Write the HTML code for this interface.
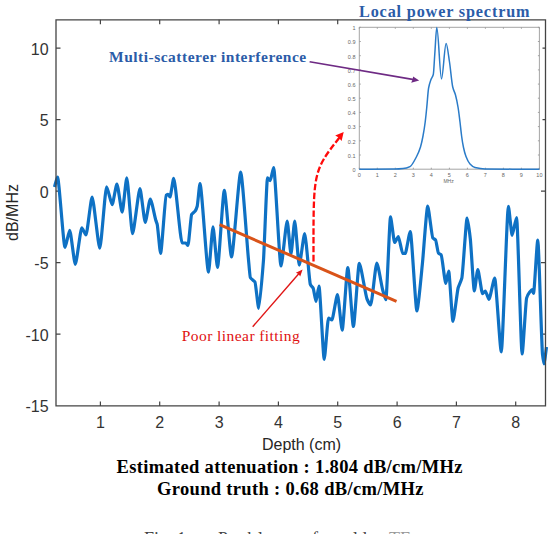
<!DOCTYPE html>
<html><head><meta charset="utf-8"><style>html,body{margin:0;padding:0;background:#fff;overflow:hidden}svg{display:block}</style></head>
<body><svg width="550" height="534" viewBox="0 0 550 534">
<rect x="0" y="0" width="550" height="534" fill="#fff"/>
<path d="M100.4,405.9 v-4.5 M100.4,19.8 v4.5 M159.7,405.9 v-4.5 M159.7,19.8 v4.5 M219.1,405.9 v-4.5 M219.1,19.8 v4.5 M278.4,405.9 v-4.5 M278.4,19.8 v4.5 M337.7,405.9 v-4.5 M337.7,19.8 v4.5 M397.1,405.9 v-4.5 M456.4,405.9 v-4.5 M515.7,405.9 v-4.5 M56.0,48.2 h4.5 M545.5,48.2 h-3 M56.0,119.7 h4.5 M545.5,119.7 h-3 M56.0,191.2 h4.5 M545.5,191.2 h-4.5 M56.0,262.7 h4.5 M545.5,262.7 h-4.5 M56.0,334.2 h4.5 M545.5,334.2 h-4.5 " stroke="#444" stroke-width="1.2" fill="none"/>
<g font-family="Liberation Sans" font-size="16" fill="#333"><text x="100.4" y="428.3" text-anchor="middle">1</text><text x="159.7" y="428.3" text-anchor="middle">2</text><text x="219.1" y="428.3" text-anchor="middle">3</text><text x="278.4" y="428.3" text-anchor="middle">4</text><text x="337.7" y="428.3" text-anchor="middle">5</text><text x="397.1" y="428.3" text-anchor="middle">6</text><text x="456.4" y="428.3" text-anchor="middle">7</text><text x="515.7" y="428.3" text-anchor="middle">8</text><text x="48.6" y="54.8" text-anchor="end">10</text><text x="48.6" y="126.3" text-anchor="end">5</text><text x="48.6" y="197.8" text-anchor="end">0</text><text x="48.6" y="269.3" text-anchor="end">-5</text><text x="48.6" y="340.8" text-anchor="end">-10</text><text x="48.6" y="412.3" text-anchor="end">-15</text></g>
<text x="301.5" y="450" text-anchor="middle" font-family="Liberation Sans" font-size="16" fill="#262626">Depth (cm)</text>
<text transform="translate(18,212.5) rotate(-90)" text-anchor="middle" font-family="Liberation Sans" font-size="16" fill="#262626">dB/MHz</text>
<defs><clipPath id="cp"><rect x="56.0" y="19.8" width="489.5" height="386.09999999999997"/></clipPath></defs>
<path d="M54.5,187.0 C55.1,185.0 56.9,177.0 57.5,177.0 C59.0,177.0 63.5,247.3 65.0,247.3 C65.9,247.3 68.8,230.3 69.7,230.3 C70.8,230.3 74.2,264.3 75.3,264.3 C76.6,264.3 80.5,227.8 81.8,227.8 C82.6,227.8 85.2,235.0 86.0,235.0 C87.2,235.0 90.9,197.0 92.1,197.0 C93.6,197.0 98.3,248.2 99.8,248.2 C101.2,248.2 105.2,186.9 106.6,186.9 C107.7,186.9 111.1,204.6 112.2,204.6 C113.1,204.6 116.0,184.0 116.9,184.0 C118.0,184.0 121.1,212.1 122.2,212.1 C123.1,212.1 125.9,177.9 126.8,177.9 C127.9,177.9 131.4,233.7 132.5,233.7 C134.0,233.7 138.5,188.7 140.0,188.7 C141.0,188.7 144.2,222.4 145.2,222.4 C146.2,222.4 149.3,199.0 150.3,199.0 C151.4,199.0 154.8,217.0 155.9,220.6 C156.2,221.4 156.9,223.3 157.2,224.3 C157.9,227.0 159.9,253.3 160.6,253.3 C161.7,253.3 165.1,196.3 166.2,195.3 C166.6,195.0 167.6,194.3 168.0,194.3 C168.4,194.3 169.6,197.0 170.0,197.0 C170.7,197.0 173.0,178.4 173.7,178.4 C175.4,178.4 180.4,243.0 182.1,243.0 C182.9,243.0 185.1,243.0 185.9,243.0 C186.3,243.0 187.6,245.5 188.0,245.5 C188.7,245.5 190.9,215.9 191.6,214.6 C192.3,213.3 194.6,212.0 195.3,210.9 C195.7,210.3 196.8,207.6 197.2,206.2 C197.8,204.2 199.4,183.7 200.0,183.7 C201.7,183.7 206.8,272.1 208.5,272.1 C209.4,272.1 212.1,226.8 213.0,226.8 C213.9,226.8 216.6,267.5 217.5,267.5 C218.9,267.5 222.9,190.3 224.3,190.3 C225.7,190.3 230.1,257.0 231.5,257.0 C233.3,257.0 238.9,172.2 240.7,172.2 C242.2,172.2 246.9,242.7 248.4,258.7 C248.8,262.6 249.9,276.8 250.3,277.5 C250.9,278.6 252.5,279.8 253.1,280.3 C253.5,280.7 254.6,281.5 255.0,282.1 C255.7,283.2 258.0,308.4 258.7,308.4 C259.7,308.4 262.5,273.1 263.5,260.0 C264.3,249.1 266.7,177.8 267.5,177.8 C268.1,177.8 269.7,180.6 270.3,180.6 C271.0,180.6 272.9,167.5 273.6,167.5 C275.1,167.5 279.5,266.0 281.0,266.0 C282.2,266.0 286.0,221.0 287.2,221.0 C288.0,221.0 290.2,254.0 291.0,254.0 C291.7,254.0 294.0,221.0 294.7,221.0 C295.6,221.0 298.3,265.1 299.2,265.1 C300.3,265.1 303.6,233.7 304.7,233.7 C305.7,233.7 308.7,272.1 309.7,280.0 C309.8,281.0 310.2,284.1 310.3,284.4 C310.9,285.9 312.6,287.0 313.2,288.2 C313.8,289.4 315.4,301.5 316.0,301.5 C316.6,301.5 318.4,286.2 319.0,286.2 C320.0,286.2 323.2,359.3 324.2,359.3 C325.1,359.3 327.6,318.0 328.5,318.0 C329.2,318.0 331.2,320.0 331.9,320.0 C333.0,320.0 336.4,294.6 337.5,294.6 C338.4,294.6 341.3,330.2 342.2,330.2 C343.3,330.2 346.7,267.5 347.8,267.5 C348.9,267.5 352.3,326.5 353.4,326.5 C354.6,326.5 358.1,263.3 359.3,263.3 C360.8,263.3 365.5,295.5 367.0,299.0 C367.7,300.7 370.0,304.9 370.7,304.9 C371.9,304.9 375.6,263.0 376.8,263.0 C378.0,263.0 381.5,285.8 382.7,290.0 C383.3,292.3 385.3,299.7 385.9,299.7 C386.8,299.7 389.6,216.9 390.5,216.9 C391.3,216.9 393.8,242.5 394.6,242.5 C395.4,242.5 397.6,236.5 398.4,236.5 C399.2,236.5 401.8,253.2 402.6,253.3 C403.1,253.4 404.7,253.5 405.2,253.5 C406.2,253.5 409.3,231.5 410.3,231.5 C411.6,231.5 415.6,310.9 416.9,310.9 C418.0,310.9 421.4,273.5 422.5,262.7 C423.5,252.7 426.7,206.2 427.7,206.2 C428.7,206.2 431.8,236.8 432.8,238.0 C433.4,238.7 435.0,239.3 435.6,240.0 C436.2,240.7 437.8,252.3 438.4,253.0 C439.0,253.7 440.6,254.3 441.2,254.9 C442.1,256.0 444.9,283.5 445.8,283.5 C446.4,283.5 448.1,271.0 448.7,271.0 C449.5,271.0 452.1,321.3 452.9,321.3 C453.9,321.3 457.1,291.9 458.1,288.0 C458.9,285.2 461.1,281.0 461.9,277.8 C462.9,273.4 466.1,218.1 467.1,218.1 C467.7,218.1 469.7,233.3 470.3,238.7 C471.1,245.5 473.5,290.9 474.3,290.9 C475.0,290.9 477.1,269.5 477.8,269.5 C478.7,269.5 481.6,293.7 482.5,293.7 C483.1,293.7 484.7,291.0 485.3,291.0 C486.0,291.0 488.3,299.3 489.0,299.3 C490.1,299.3 493.6,278.0 494.7,278.0 C496.0,278.0 500.0,351.8 501.3,351.8 C502.7,351.8 507.0,206.3 508.4,206.3 C509.1,206.3 511.4,235.3 512.1,235.3 C513.0,235.3 515.7,217.5 516.6,217.5 C517.7,217.5 521.0,354.0 522.1,354.0 C523.0,354.0 525.7,301.0 526.6,298.1 C527.2,296.3 528.8,293.2 529.4,292.5 C530.0,291.8 531.6,289.7 532.2,289.7 C532.5,289.7 533.2,293.5 533.5,293.5 C534.4,293.5 536.9,240.0 537.8,240.0 C538.7,240.0 541.6,345.9 542.5,354.4 C542.8,357.1 543.7,363.8 544.0,363.8 C544.5,363.8 546.0,350.4 546.5,347.0" stroke="#0e71c4" stroke-width="3.2" fill="none" stroke-linejoin="round" stroke-linecap="butt"/>
<path d="M219.6,224.6 L396.5,301.3" stroke="#d95319" stroke-width="3" fill="none"/>
<path d="M56.0,19.8 H545.5 V405.9 H56.0 Z" stroke="#444" stroke-width="1.3" fill="none"/>
<path d="M359.3,169.2 v-1.5 M359.3,27.3 v1.5 M377.3,169.2 v-1.5 M377.3,27.3 v1.5 M395.3,169.2 v-1.5 M395.3,27.3 v1.5 M413.3,169.2 v-1.5 M413.3,27.3 v1.5 M431.3,169.2 v-1.5 M431.3,27.3 v1.5 M449.4,169.2 v-1.5 M449.4,27.3 v1.5 M467.4,169.2 v-1.5 M467.4,27.3 v1.5 M485.4,169.2 v-1.5 M485.4,27.3 v1.5 M503.4,169.2 v-1.5 M503.4,27.3 v1.5 M521.4,169.2 v-1.5 M521.4,27.3 v1.5 M539.4,169.2 v-1.5 M539.4,27.3 v1.5 M359.3,169.2 h1.5 M539.4,169.2 h-1.5 M359.3,155.0 h1.5 M539.4,155.0 h-1.5 M359.3,140.8 h1.5 M539.4,140.8 h-1.5 M359.3,126.6 h1.5 M539.4,126.6 h-1.5 M359.3,112.4 h1.5 M539.4,112.4 h-1.5 M359.3,98.2 h1.5 M539.4,98.2 h-1.5 M359.3,84.1 h1.5 M539.4,84.1 h-1.5 M359.3,69.9 h1.5 M539.4,69.9 h-1.5 M359.3,55.7 h1.5 M539.4,55.7 h-1.5 M359.3,41.5 h1.5 M539.4,41.5 h-1.5 M359.3,27.3 h1.5 M539.4,27.3 h-1.5 " stroke="#666" stroke-width="0.6" fill="none"/>
<path d="M359.3,27.3 H539.4 V169.2 H359.3 Z" stroke="#9a9a9a" stroke-width="0.9" fill="none"/>
<g font-family="Liberation Sans" font-size="5.5" fill="#666"><text x="359.3" y="177.2" text-anchor="middle">0</text><text x="377.3" y="177.2" text-anchor="middle">1</text><text x="395.3" y="177.2" text-anchor="middle">2</text><text x="413.3" y="177.2" text-anchor="middle">3</text><text x="431.3" y="177.2" text-anchor="middle">4</text><text x="449.4" y="177.2" text-anchor="middle">5</text><text x="467.4" y="177.2" text-anchor="middle">6</text><text x="485.4" y="177.2" text-anchor="middle">7</text><text x="503.4" y="177.2" text-anchor="middle">8</text><text x="521.4" y="177.2" text-anchor="middle">9</text><text x="539.4" y="177.2" text-anchor="middle">10</text><text x="355.5" y="172.0" text-anchor="end">0</text><text x="355.5" y="157.8" text-anchor="end">0.1</text><text x="355.5" y="143.6" text-anchor="end">0.2</text><text x="355.5" y="129.4" text-anchor="end">0.3</text><text x="355.5" y="115.2" text-anchor="end">0.4</text><text x="355.5" y="101.0" text-anchor="end">0.5</text><text x="355.5" y="86.9" text-anchor="end">0.6</text><text x="355.5" y="72.7" text-anchor="end">0.7</text><text x="355.5" y="58.5" text-anchor="end">0.8</text><text x="355.5" y="44.3" text-anchor="end">0.9</text><text x="355.5" y="30.1" text-anchor="end">1</text></g>
<text x="448.6" y="183" text-anchor="middle" font-family="Liberation Sans" font-size="5" fill="#666">MHz</text>
<path d="M359.3,169.2 C371.2,169.2 383.1,169.2 395.0,169.1 C397.7,169.1 400.3,168.9 403.0,168.6 C405.3,168.4 407.7,167.7 410.0,166.6 C412.2,165.5 414.4,160.7 416.6,156.5 C417.9,154.0 419.2,151.2 420.5,147.0 C421.3,144.3 422.2,140.4 423.0,136.0 C423.7,132.2 424.5,127.6 425.2,122.0 C425.7,117.9 426.3,112.3 426.8,107.0 C427.4,101.0 428.0,91.3 428.6,88.0 C429.4,83.7 430.2,81.7 431.0,79.5 C431.8,77.4 432.5,77.5 433.3,74.5 C433.8,72.5 434.3,60.4 434.8,53.7 C435.5,44.7 436.1,27.6 436.8,27.6 C438.4,27.6 439.9,79.0 441.5,79.0 C443.0,79.0 444.6,43.6 446.1,43.6 C447.2,43.6 448.4,54.8 449.5,62.0 C450.6,69.0 451.7,82.8 452.8,87.3 C453.7,91.0 454.6,91.8 455.5,95.0 C456.3,98.0 457.2,102.1 458.0,107.0 C458.7,110.9 459.3,116.6 460.0,122.0 C460.5,126.3 461.1,132.2 461.6,136.0 C462.2,140.6 462.9,144.6 463.5,147.5 C464.3,151.3 465.2,154.4 466.0,156.5 C467.3,159.9 468.7,162.6 470.0,164.0 C471.7,165.8 473.3,167.2 475.0,167.6 C478.3,168.4 481.7,169.0 485.0,169.0 C503.1,169.2 521.3,169.1 539.4,169.2" stroke="#2a7bc8" stroke-width="1.5" fill="none" stroke-linejoin="round"/>
<text x="359" y="17" font-family="Liberation Serif" font-weight="bold" font-size="16.2" letter-spacing="0.85" fill="#2b5ca8">Local power spectrum</text>
<text x="109" y="61.8" font-family="Liberation Serif" font-weight="bold" font-size="15.5" letter-spacing="0.5" fill="#2b5ca8">Multi-scatterer interference</text>
<path d="M309.6,61.8 L414,79.6" stroke="#6e2a84" stroke-width="1.6" fill="none"/>
<path d="M419.2,80.5 L411.2,82.8 L412.6,79.6 L413.1,76.6 Z" fill="#6e2a84"/>
<path d="M313.5,261.5 C313.50,171.51 312.20,172.02 340.28,136.52" stroke="#ff0a0a" stroke-width="2.3" fill="none" stroke-dasharray="6.5,2.4"/>
<path d="M343.7,132.1 L341.6,140.9 L338.7,137.6 L335.2,135.6 Z" fill="#ff0a0a"/>
<path d="M252.7,326.7 L299.2,273.3" stroke="#e01515" stroke-width="1.4" fill="none"/>
<path d="M302.6,269.4 L300.2,276.6 L298.6,274 L295.9,272.7 Z" fill="#e01515"/>
<text x="181.8" y="340.6" font-family="Liberation Serif" font-size="15.5" letter-spacing="0.43" fill="#e01010">Poor linear fitting</text>
<text x="116.5" y="472.5" font-family="Liberation Serif" font-weight="bold" font-size="18.5" letter-spacing="0.33" fill="#000">Estimated attenuation : 1.804 dB/cm/MHz</text>
<text x="157" y="495" font-family="Liberation Serif" font-size="18.5" letter-spacing="0.33" font-weight="bold" fill="#000">Ground truth : 0.68 dB/cm/MHz</text>
<text x="144" y="545" font-family="Liberation Serif" font-size="18" fill="#444">Fig. 1.</text><text x="218" y="545" font-family="Liberation Serif" font-size="18" letter-spacing="1.5" fill="#444">Problem</text><text x="303" y="545" font-family="Liberation Serif" font-size="18" fill="#444">of</text><text x="344" y="545" font-family="Liberation Serif" font-size="18" fill="#444">old</text><text x="389" y="545" font-family="Liberation Serif" font-size="18" fill="#999">TE</text>
</svg></body></html>
